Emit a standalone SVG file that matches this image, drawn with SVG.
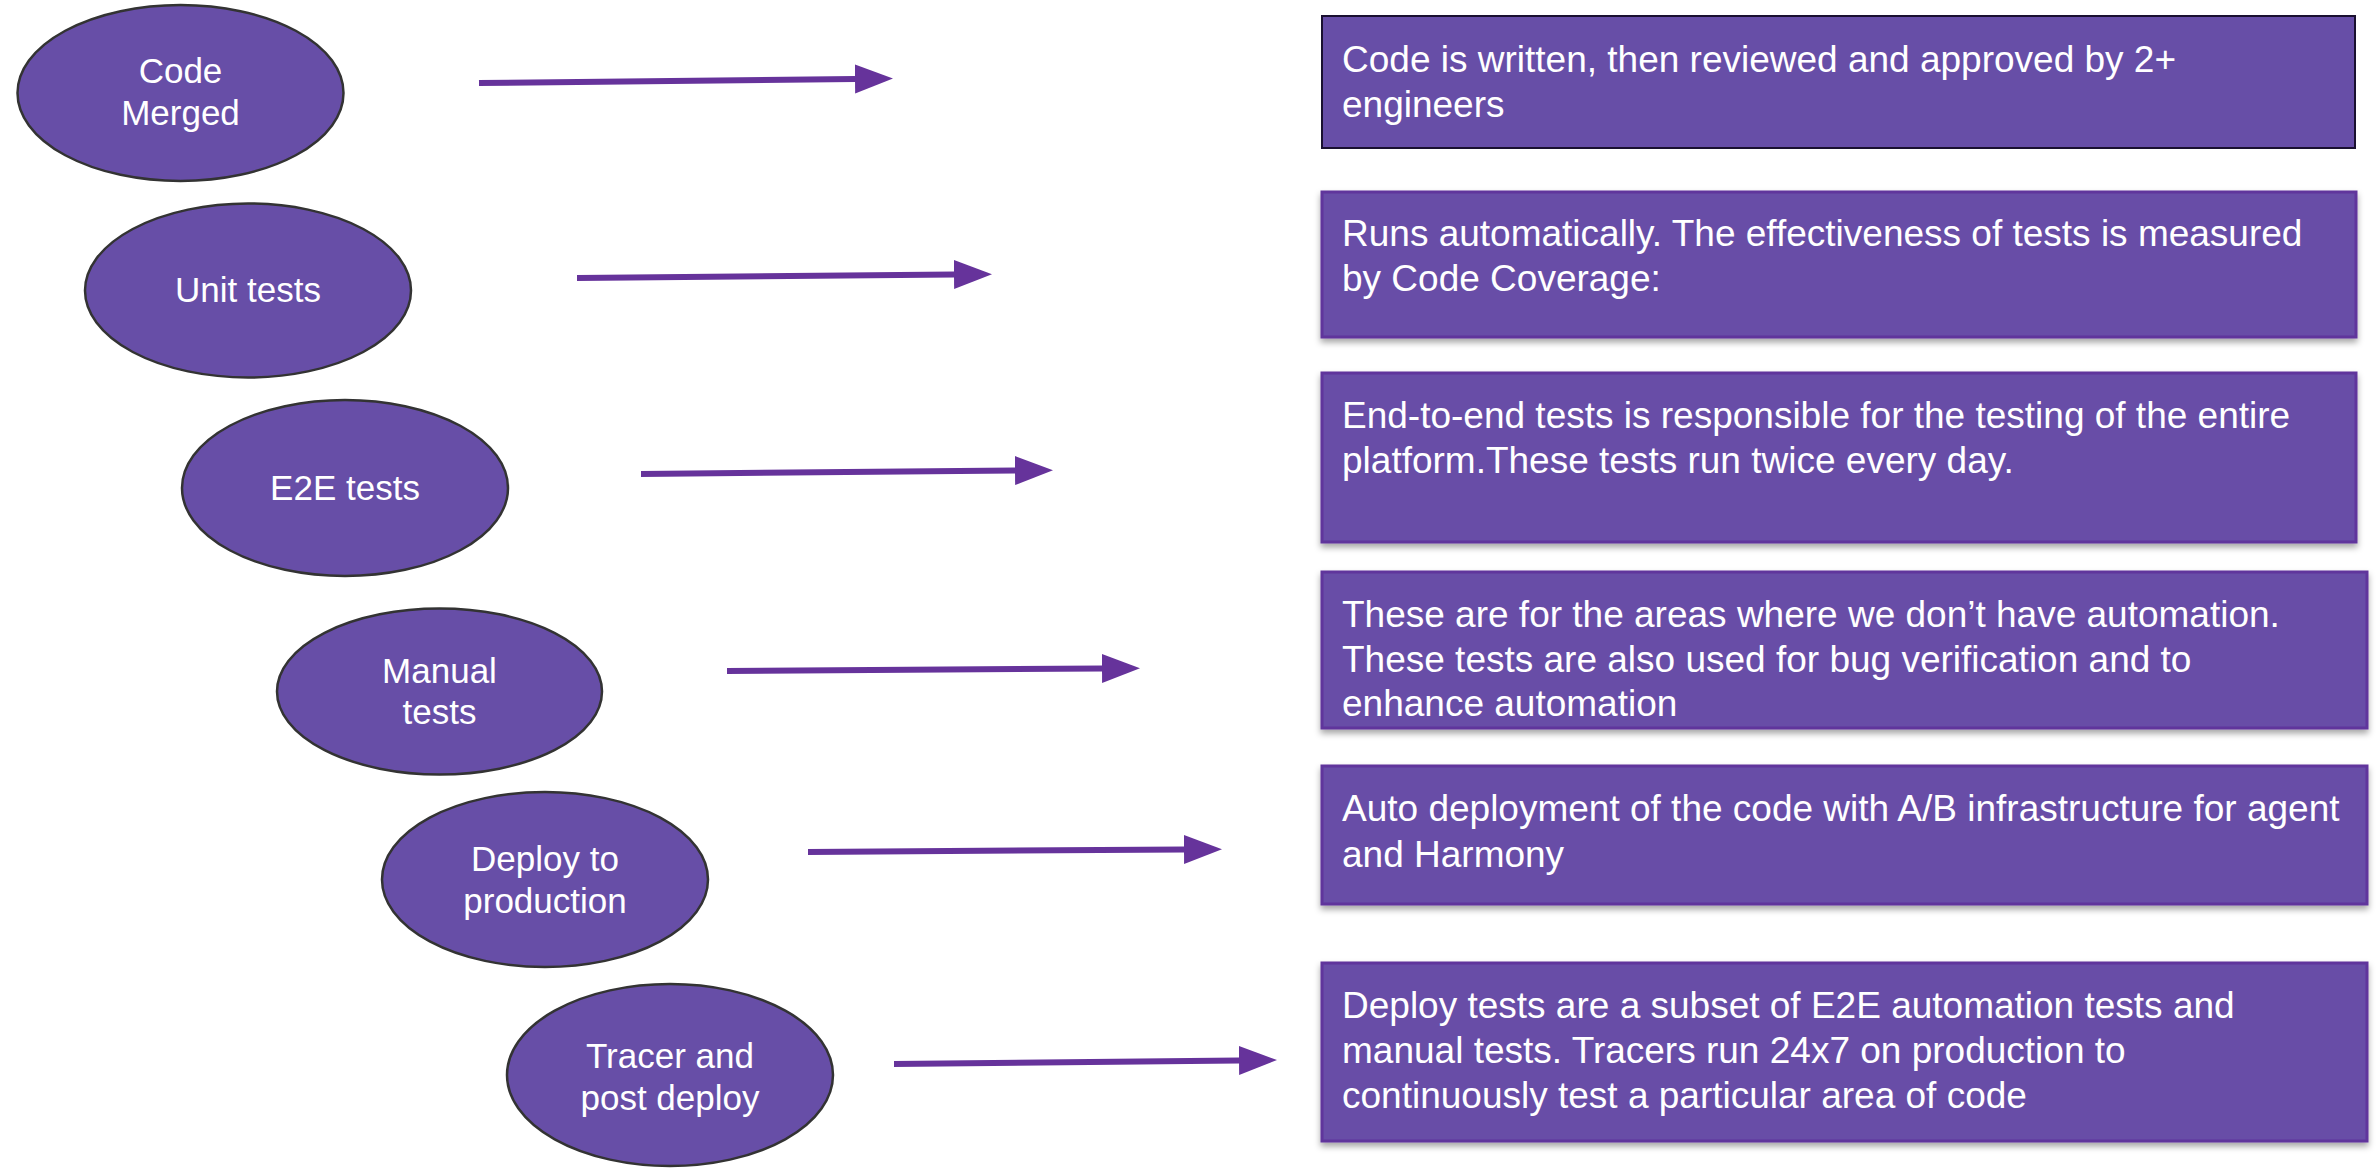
<svg xmlns="http://www.w3.org/2000/svg" width="2379" height="1169" viewBox="0 0 2379 1169">
<style>
.ell{fill:#674ea7;stroke:#333333;stroke-width:2.5}
.box{fill:#674ea7;stroke:#61349c;stroke-width:3;filter:url(#sh)}
.box1{fill:#674ea7;stroke:#1a1030;stroke-width:2}
.lbl{font-family:"Liberation Sans",Arial,sans-serif;font-size:35px;fill:#ffffff;text-anchor:middle}
.txt{font-family:"Liberation Sans",Arial,sans-serif;font-size:37px;fill:#ffffff}
.arr{stroke:#66339b;stroke-width:6;fill:none;marker-end:url(#ah)}
</style>
<defs>
<filter id="sh" x="-5%" y="-10%" width="110%" height="130%">
<feDropShadow dx="0" dy="4" stdDeviation="3" flood-color="#000000" flood-opacity="0.35"/>
</filter>
<marker id="ah" markerUnits="userSpaceOnUse" markerWidth="40" markerHeight="30" refX="0" refY="14.5" orient="auto" viewBox="0 0 40 30">
<path d="M0,0 L38,14.5 L0,29 Z" fill="#66339b"/>
</marker>
</defs>
<rect width="2379" height="1169" fill="#ffffff"/>
<g id="connectors">
<line class="arr" x1="479" y1="83" x2="855" y2="79"/>
<line class="arr" x1="577" y1="278" x2="954" y2="274.5"/>
<line class="arr" x1="641" y1="474" x2="1015" y2="470.5"/>
<line class="arr" x1="727" y1="671" x2="1102" y2="668.5"/>
<line class="arr" x1="808" y1="852" x2="1184" y2="849.5"/>
<line class="arr" x1="894" y1="1064" x2="1239" y2="1060.5"/>
</g>
<g id="node-code-merged">
<ellipse class="ell" cx="180.5" cy="93" rx="163" ry="88"/>
<text class="lbl" x="180.5" y="83">Code</text>
<text class="lbl" x="180.5" y="125">Merged</text>
</g>
<g id="node-unit-tests">
<ellipse class="ell" cx="248" cy="290.5" rx="163" ry="87"/>
<text class="lbl" x="248" y="302">Unit tests</text>
</g>
<g id="node-e2e-tests">
<ellipse class="ell" cx="345" cy="488" rx="163" ry="88"/>
<text class="lbl" x="345" y="500">E2E tests</text>
</g>
<g id="node-manual-tests">
<ellipse class="ell" cx="439.5" cy="691.5" rx="162.5" ry="83"/>
<text class="lbl" x="439.5" y="683">Manual</text>
<text class="lbl" x="439.5" y="724">tests</text>
</g>
<g id="node-deploy">
<ellipse class="ell" cx="545" cy="879.5" rx="163" ry="87.5"/>
<text class="lbl" x="545" y="871">Deploy to</text>
<text class="lbl" x="545" y="913">production</text>
</g>
<g id="node-tracer">
<ellipse class="ell" cx="670" cy="1075" rx="163" ry="91"/>
<text class="lbl" x="670" y="1068">Tracer and</text>
<text class="lbl" x="670" y="1110">post deploy</text>
</g>
<g id="box-code-merged">
<rect class="box1" x="1322" y="16" width="1033" height="132"/>
<text class="txt" x="1342" y="72">Code is written, then reviewed and approved by 2+</text>
<text class="txt" x="1342" y="117">engineers</text>
</g>
<g id="box-unit-tests">
<rect class="box" x="1322" y="192" width="1034" height="145"/>
<text class="txt" x="1342" y="246">Runs automatically. The effectiveness of tests is measured</text>
<text class="txt" x="1342" y="291">by Code Coverage:</text>
</g>
<g id="box-e2e-tests">
<rect class="box" x="1322" y="373" width="1034" height="169"/>
<text class="txt" x="1342" y="428">End-to-end tests is responsible for the testing of the entire</text>
<text class="txt" x="1342" y="473">platform.These tests run twice every day.</text>
</g>
<g id="box-manual-tests">
<rect class="box" x="1322" y="572" width="1045" height="156"/>
<text class="txt" x="1342" y="627">These are for the areas where we don’t have automation.</text>
<text class="txt" x="1342" y="672">These tests are also used for bug verification and to</text>
<text class="txt" x="1342" y="716">enhance automation</text>
</g>
<g id="box-deploy">
<rect class="box" x="1322" y="766" width="1045" height="138"/>
<text class="txt" x="1342" y="821">Auto deployment of the code with A/B infrastructure for agent</text>
<text class="txt" x="1342" y="867">and Harmony</text>
</g>
<g id="box-tracer">
<rect class="box" x="1322" y="963" width="1045" height="178"/>
<text class="txt" x="1342" y="1018">Deploy tests are a subset of E2E automation tests and</text>
<text class="txt" x="1342" y="1063">manual tests. Tracers run 24x7 on production to</text>
<text class="txt" x="1342" y="1108">continuously test a particular area of code</text>
</g>
</svg>
